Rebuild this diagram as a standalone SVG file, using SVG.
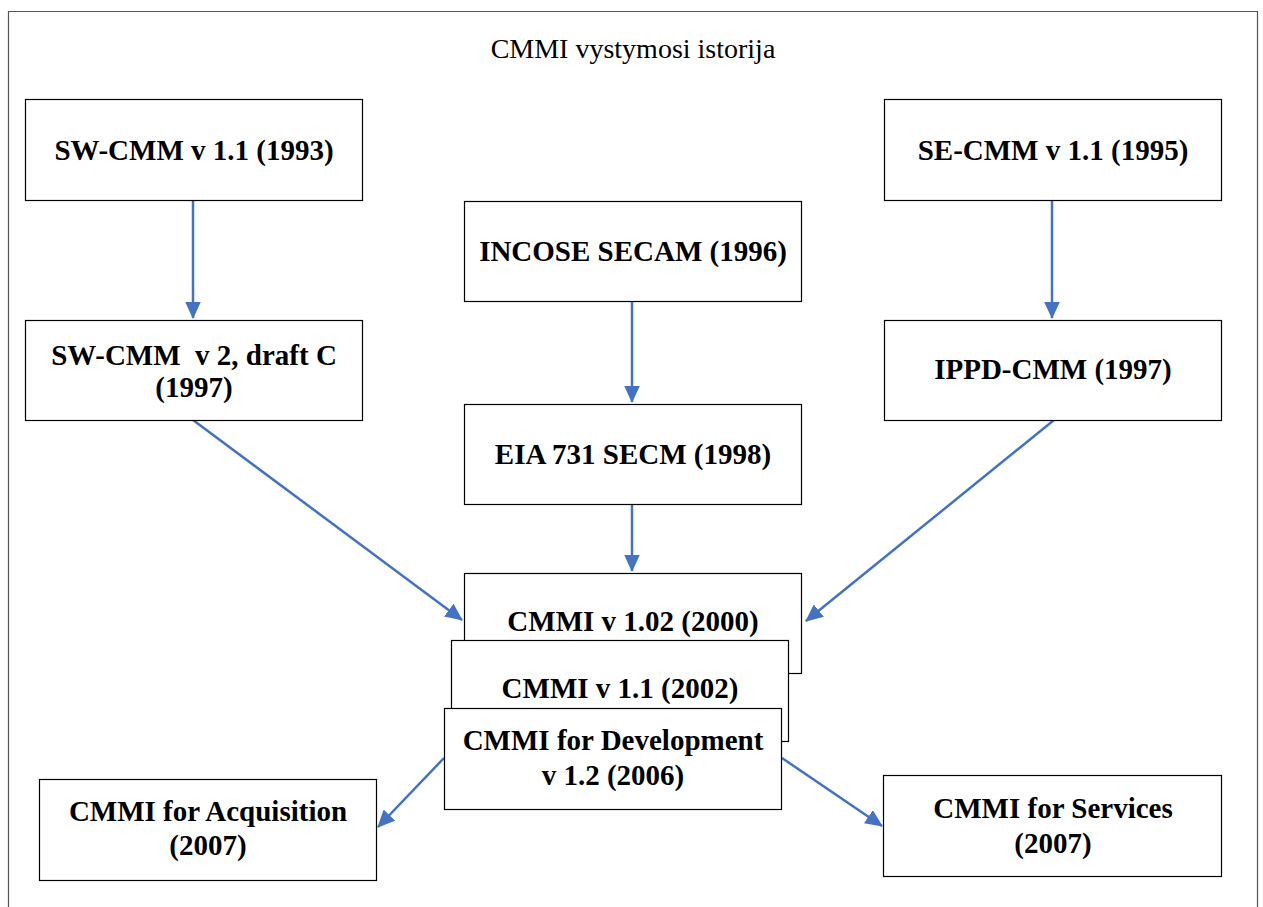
<svg xmlns="http://www.w3.org/2000/svg" width="1263" height="907" viewBox="0 0 1263 907">
<style>
.box{fill:#fff;stroke:#000;stroke-width:1.2}
.t{font-family:"Liberation Serif","Times New Roman",serif;font-weight:bold;font-size:29px;fill:#000;text-anchor:middle;white-space:pre}
.title{font-family:"Liberation Serif","Times New Roman",serif;font-size:28px;fill:#000;text-anchor:middle}
.c{stroke:#4472C4;stroke-width:2.5;fill:none;marker-end:url(#ah)}
</style>
<defs>
<marker id="ah" markerWidth="7" markerHeight="6.4" refX="6.6" refY="3.2" orient="auto" markerUnits="strokeWidth">
<path d="M0,0 L7,3.2 L0,6.4 Z" fill="#4472C4"/>
</marker>
</defs>
<rect width="1263" height="907" fill="#fff"/>
<path d="M8.5,907 V11.5 H1257.5 V907" fill="none" stroke="#555" stroke-width="1.2"/>
<text class="title" x="633" y="58">CMMI vystymosi istorija</text>
<g id="connectors">
<line class="c" x1="193" y1="201" x2="193" y2="318"/>
<line class="c" x1="1052" y1="201" x2="1052" y2="318"/>
<line class="c" x1="632" y1="302" x2="632" y2="402"/>
<line class="c" x1="632" y1="505" x2="632" y2="571"/>
<line class="c" x1="193" y1="420" x2="462" y2="620"/>
<line class="c" x1="1054" y1="420" x2="806" y2="621"/>
<line class="c" x1="444" y1="758" x2="378" y2="827"/>
<line class="c" x1="782" y1="758" x2="882" y2="826"/>
</g>
<g id="sw11"><rect class="box" x="25.5" y="99.5" width="337" height="101"/><text class="t" x="194" y="160">SW-CMM v 1.1 (1993)</text></g>
<g id="se11"><rect class="box" x="884.5" y="99.5" width="337" height="101"/><text class="t" x="1053" y="160">SE-CMM v 1.1 (1995)</text></g>
<g id="incose"><rect class="box" x="464.5" y="201.5" width="337" height="100"/><text class="t" x="633" y="261">INCOSE SECAM (1996)</text></g>
<g id="sw2"><rect class="box" x="25.5" y="320.5" width="337" height="100"/><text class="t" x="194" y="365">SW-CMM  v 2, draft C</text><text class="t" x="194" y="397">(1997)</text></g>
<g id="ippd"><rect class="box" x="884.5" y="320.5" width="337" height="100"/><text class="t" x="1053" y="379">IPPD-CMM (1997)</text></g>
<g id="eia"><rect class="box" x="464.5" y="404.5" width="337" height="100"/><text class="t" x="633" y="464">EIA 731 SECM (1998)</text></g>
<g id="cmmi102"><rect class="box" x="464.5" y="573.5" width="337" height="100"/><text class="t" x="633" y="631">CMMI v 1.02 (2000)</text></g>
<g id="cmmi11"><rect class="box" x="451.5" y="640.5" width="337" height="101"/><text class="t" x="620" y="698">CMMI v 1.1 (2002)</text></g>
<g id="cmmidev"><rect class="box" x="444.5" y="708.5" width="337" height="101"/><text class="t" x="613" y="750">CMMI for Development</text><text class="t" x="613" y="785">v 1.2 (2006)</text></g>
<g id="acq"><rect class="box" x="39.5" y="779.5" width="337" height="101"/><text class="t" x="208" y="821">CMMI for Acquisition</text><text class="t" x="208" y="855">(2007)</text></g>
<g id="svc"><rect class="box" x="883.5" y="775.5" width="338" height="101"/><text class="t" x="1053" y="818">CMMI for Services</text><text class="t" x="1053" y="853">(2007)</text></g>
</svg>
